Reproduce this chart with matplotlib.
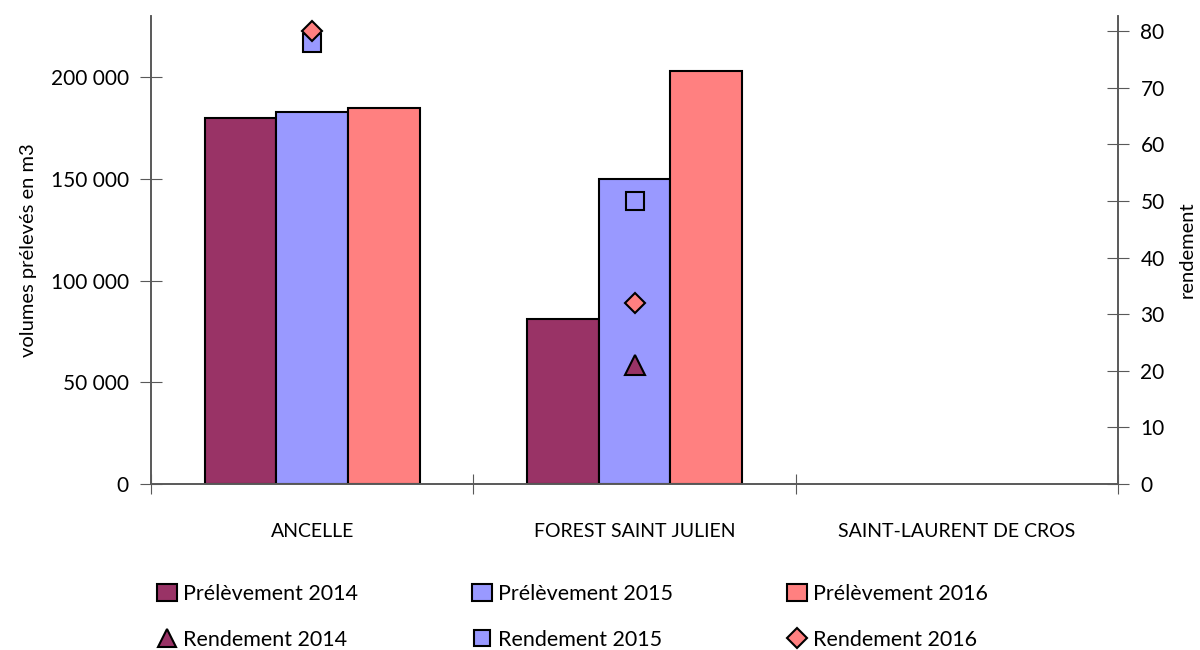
import numpy as np
import matplotlib.pyplot as plt
from matplotlib.ticker import FuncFormatter, FixedLocator
from matplotlib.lines import Line2D
from matplotlib.patches import Patch

# ---------------- DATA ----------------
communes = ["ANCELLE", "FOREST SAINT JULIEN", "SAINT-LAURENT DE CROS"]
prelev_2014 = [180000, 81000, np.nan]
prelev_2015 = [183000, 150000, np.nan]
prelev_2016 = [185000, 203000, np.nan]
rend_2014 = [np.nan, 21, np.nan]
rend_2015 = [78, 50, np.nan]
rend_2016 = [80, 32, np.nan]
# ---------------------------------------

c14 = "#993366"
c15 = "#9999FF"
c16 = "#FF8080"
axis_col = "#595959"

plt.rcParams["font.family"] = ["Lato", "DejaVu Sans"]

fig = plt.figure(figsize=(12, 6.5), dpi=100)
ax = fig.add_axes([0.1258, 0.2554, 0.806, 0.72])
ax2 = ax.twinx()

x = np.arange(len(communes))
w = 0.222
ax.bar(x - w, prelev_2014, w, color=c14, edgecolor="black", linewidth=1.5, zorder=2)
ax.bar(x, prelev_2015, w, color=c15, edgecolor="black", linewidth=1.5, zorder=2)
ax.bar(x + w, prelev_2016, w, color=c16, edgecolor="black", linewidth=1.5, zorder=2)

ax2.plot(x, rend_2014, linestyle="none", marker="^", ms=14, mfc=c14, mec="black", mew=1.5)
ax2.plot(x, rend_2015, linestyle="none", marker="s", ms=13, mfc=c15, mec="black", mew=1.5)
ax2.plot(x, rend_2016, linestyle="none", marker="D", ms=10.5, mfc=c16, mec="black", mew=1.5)

ax.set_xlim(-0.5, 2.5)
ax.set_ylim(0, 230000)
ax2.set_ylim(0, 82.7)

ax.set_yticks(np.arange(0, 200001, 50000))
ax.yaxis.set_major_formatter(FuncFormatter(lambda v, p: f"{int(v):,}".replace(",", " ")))
ax2.set_yticks(np.arange(0, 81, 10))

# category boundaries as major ticks, names as minor ticks
ax.xaxis.set_major_locator(FixedLocator([-0.5, 0.5, 1.5, 2.5]))
ax.xaxis.set_minor_locator(FixedLocator(x))
ax.set_xticklabels([], minor=False)
ax.set_xticklabels(communes, minor=True)
ax.tick_params(axis="x", which="major", direction="inout", length=14, color=axis_col)
ax.tick_params(axis="x", which="minor", length=0, pad=28, labelsize=14)

ax.tick_params(axis="y", direction="inout", length=16, color=axis_col, labelsize=15, pad=8)
ax2.tick_params(axis="y", direction="inout", length=16, color=axis_col, labelsize=15, pad=8)

for a in (ax, ax2):
    a.spines["top"].set_visible(False)
    for s in ("left", "right", "bottom"):
        a.spines[s].set_color(axis_col)
        a.spines[s].set_linewidth(1.2)

ax.set_ylabel("volumes prélevés en m3", fontsize=14.5, labelpad=10)
ax2.set_ylabel("rendement", fontsize=14.5, labelpad=10)

# -------- LEGEND --------
handles = [
    Patch(facecolor=c14, edgecolor="black", linewidth=1.5),
    Line2D([], [], linestyle="none", marker="^", ms=13, mfc=c14, mec="black", mew=1.5),
    Patch(facecolor=c15, edgecolor="black", linewidth=1.5),
    Line2D([], [], linestyle="none", marker="s", ms=12, mfc=c15, mec="black", mew=1.5),
    Patch(facecolor=c16, edgecolor="black", linewidth=1.5),
    Line2D([], [], linestyle="none", marker="D", ms=10, mfc=c16, mec="black", mew=1.5),
]
labels = ["Prélèvement 2014", "Rendement 2014", "Prélèvement 2015",
          "Rendement 2015", "Prélèvement 2016", "Rendement 2016"]
fig.legend(handles, labels, ncol=3, loc="lower left", bbox_to_anchor=(0.115, -0.03),
           frameon=False, fontsize=15.5, handlelength=0.9, handleheight=0.9,
           handletextpad=0.3, columnspacing=5.3, labelspacing=1.2)

fig.savefig("out.png", dpi=100)
